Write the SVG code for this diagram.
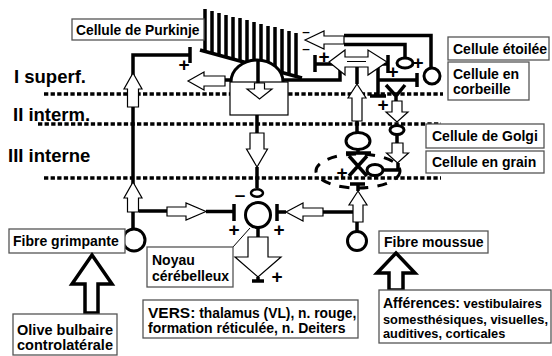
<svg xmlns="http://www.w3.org/2000/svg" width="552" height="356" viewBox="0 0 552 356">
<style>
.t{font-family:"Liberation Sans",Arial,sans-serif;font-weight:bold;fill:#000}
.lay{font-size:18.5px}
.lb{font-size:14px}
.sg{font-size:19px;text-anchor:middle}
.box{fill:#fff;stroke:#555;stroke-width:1.3}
.k{fill:none;stroke:#000;stroke-width:3.5}
.kf{fill:#fff;stroke:#000;stroke-width:3}
.arr{fill:#fff;stroke:#000;stroke-width:1.2}
.big{fill:#fff;stroke:#000;stroke-width:3.5}
.dot{stroke:#000;stroke-width:3.5;stroke-dasharray:4.3 2.3;fill:none}
.thin{stroke:#000;stroke-width:1;fill:none}
</style>
<rect width="552" height="356" fill="#fff"/>
<g id="layers">
<path class="dot" d="M44,94H443M38,124H441M44,178H441"/>
<text class="t lay" x="14" y="83">I superf.</text>
<text class="t lay" x="13" y="121">II interm.</text>
<text class="t lay" x="8" y="162">III interne</text>
</g>
<g id="connectors">
<path class="k" d="M133,229V55H190M190,47V63"/>
<path class="k" d="M139,211H167M206,211.5H234M234,204V221"/>
<path class="k" d="M225,80H233M315,64H340V80H282M315,55V72"/>
<path class="k" d="M257,115V133M257,167V188"/>
<path class="k" d="M258,228V237M258,277V281M252,281H264"/>
<path class="thin" d="M250,228L233,247"/>
<path class="k" d="M357,232V222M353,212H323M286,212H277M277,204V221"/>
<path class="k" d="M350,184H365M358,184V191"/>
<path class="k" d="M357,67V84M357,121V132"/>
<path class="k" d="M358,149.5V153M346,153H371M349,156L367,176M367,156L349,176"/>
<path class="k" d="M383,170H398V163"/>
<path class="k" d="M396,96V101M386,85L396,96L405,85M397,134.5V143"/>
<path class="k" d="M388,55V73M388,64H378V96M370,96H386M378,80H417M417,73V87"/>
<path class="k" d="M344,35.5H431V68M344,44.5H405V58"/>
<ellipse cx="358" cy="171" rx="42" ry="17" fill="none" stroke="#000" stroke-width="3" stroke-dasharray="10 9"/>
</g>
<g id="purkinje">
<path class="k" stroke-width="3" d="M205,9V51M212,11V53M219,13V55M226,15V57M233,17V59M240,18V60M247,20V62M254,22V64M261,24V66M268,26V68M275,27V70M282,29V72M289,31V74M296,33V76"/>
<path class="k" d="M200,50L302,78"/>
<path class="kf" d="M231,82A26,22 0 0 1 283,82"/>
<rect x="230" y="82" width="58" height="33" fill="#fff" stroke="#000" stroke-width="1.2"/>
<path class="k" d="M258,61V83"/>
<polygon class="arr" points="254.5,83 264.5,83 264.5,89 272,89 259.5,99 247,89 254.5,89"/>
<polygon class="arr" points="188,81 204,72 204,76 225,76 225,86 204,86 204,90"/>
<polygon class="arr" points="250,133 264,133 264,149 267.5,149 257,167 246.5,149 250,149"/>
<rect class="box" x="72" y="19" width="132" height="21"/>
<text class="t" x="76" y="35" font-size="13.8">Cellule de Purkinje</text>
</g>
<g id="climbing">
<polygon class="arr" points="133,73 142,89 138.5,89 138.5,107 127.5,107 127.5,89 124,89"/>
<polygon class="arr" points="133,182 142,198 138.5,198 138.5,212 127.5,212 127.5,198 124,198"/>
<polygon class="arr" points="206,211.5 186,220 186,216 167,216 167,207 186,207 186,203"/>
<circle class="kf" cx="134" cy="240" r="11"/>
<rect class="box" x="9" y="229" width="116" height="24"/>
<text class="t lb" x="13" y="246">Fibre grimpante</text>
<polygon class="big" points="92,255 112,284 98,284 98,313 85,313 85,284 72,284"/>
<rect class="box" x="13" y="314" width="104" height="41"/>
<text class="t" x="65" y="335" font-size="14.5" text-anchor="middle">Olive bulbaire</text>
<text class="t" x="65" y="350" font-size="14.5" text-anchor="middle">controlatérale</text>
</g>
<g id="nucleus">
<ellipse cx="257" cy="193" rx="6" ry="3.7" fill="none" stroke="#000" stroke-width="2.5"/>
<circle class="kf" cx="258" cy="215" r="12.5"/>
<polygon class="arr" points="248,237 268,237 268,257 281,257 258,277 235,257 248,257"/>
<rect class="box" x="147" y="247" width="86" height="40"/>
<text class="t lb" x="152" y="265">Noyau</text>
<text class="t lb" x="152" y="281">cérébelleux</text>
<rect class="box" x="143" y="300" width="215" height="38"/>
<text class="t" x="148" y="318"><tspan font-size="15.5">VERS:</tspan><tspan font-size="13.8"> thalamus (VL), n. rouge,</tspan></text>
<text class="t" x="148" y="333" font-size="14">formation réticulée, n. Deiters</text>
</g>
<g id="mossy">
<polygon class="arr" points="358,191 367,205 363,205 363,222 353,222 353,205 349,205"/>
<polygon class="arr" points="286,212 303,203 303,208 323,208 323,216 303,216 303,221"/>
<circle class="kf" cx="357" cy="241" r="9.5"/>
<rect class="box" x="379" y="231" width="109" height="22"/>
<text class="t lb" x="384" y="247">Fibre moussue</text>
<polygon class="big" points="396,253 415,273 403,273 403,290 389,290 389,273 377,273"/>
<rect class="box" x="379" y="290" width="172" height="53"/>
<text class="t" x="383" y="308"><tspan font-size="14">Afférences:</tspan><tspan font-size="12.8"> vestibulaires</tspan></text>
<text class="t" x="383" y="324" font-size="12.8">somesthésiques, visuelles,</text>
<text class="t" x="383" y="338" font-size="12.8">auditives,  corticales</text>
</g>
<g id="granule">
<polygon class="arr" points="329,62 345,50 345,57 368,57 368,50 387,62 368,75 368,67 345,67 345,75"/>
<path class="thin" d="M347,61.5H366"/>
<polygon class="arr" points="357,84 366,98 362,98 362,121 352,121 352,98 348,98"/>
<ellipse class="kf" cx="358" cy="141" rx="12" ry="8.5"/>
<ellipse class="kf" cx="375" cy="170" rx="8" ry="5.5"/>
<rect class="box" x="426" y="151" width="118" height="22"/>
<text class="t lb" x="432" y="167">Cellule en grain</text>
</g>
<g id="golgi">
<polygon class="arr" points="392,101 402,101 402,112 408,112 397,122 386,112 392,112"/>
<ellipse class="kf" cx="397" cy="130" rx="7" ry="4.5"/>
<polygon class="arr" points="392,143 403,143 403,153 408.5,153 397.5,163 386.5,153 392,153"/>
<rect class="box" x="426" y="124" width="118" height="24"/>
<text class="t lb" x="432" y="141">Cellule de Golgi</text>
</g>
<g id="stellate">
<polygon class="arr" points="305,40 324,31 324,36 344,36 344,44 324,44 324,49"/>
<ellipse class="kf" cx="405" cy="63" rx="8" ry="5"/>
<rect class="box" x="448" y="37" width="101" height="23"/>
<text class="t lb" x="453" y="54">Cellule étoilée</text>
</g>
<g id="basket">
<circle class="kf" cx="432" cy="76" r="8"/>
<rect class="box" x="448" y="62" width="81" height="38"/>
<text class="t lb" x="453" y="79">Cellule en</text>
<text class="t lb" x="453" y="94">corbeille</text>
</g>
<g id="signs">
<text class="t sg" x="184" y="71">+</text>
<text class="t sg" x="324" y="63">+</text>
<text class="t sg" x="418" y="69">+</text>
<text class="t sg" x="393" y="78">+</text>
<text class="t sg" x="383" y="111">+</text>
<text class="t sg" x="342" y="179">+</text>
<text class="t sg" x="234" y="236">+</text>
<text class="t sg" x="279" y="236">+</text>
<text class="t sg" x="277" y="283">+</text>
<text class="t sg" x="240" y="201">–</text>
<text class="t" x="306" y="36" font-size="13.5" text-anchor="middle">–</text>
<text class="t" x="306" y="53" font-size="13.5" text-anchor="middle">–</text>
</g>
</svg>
